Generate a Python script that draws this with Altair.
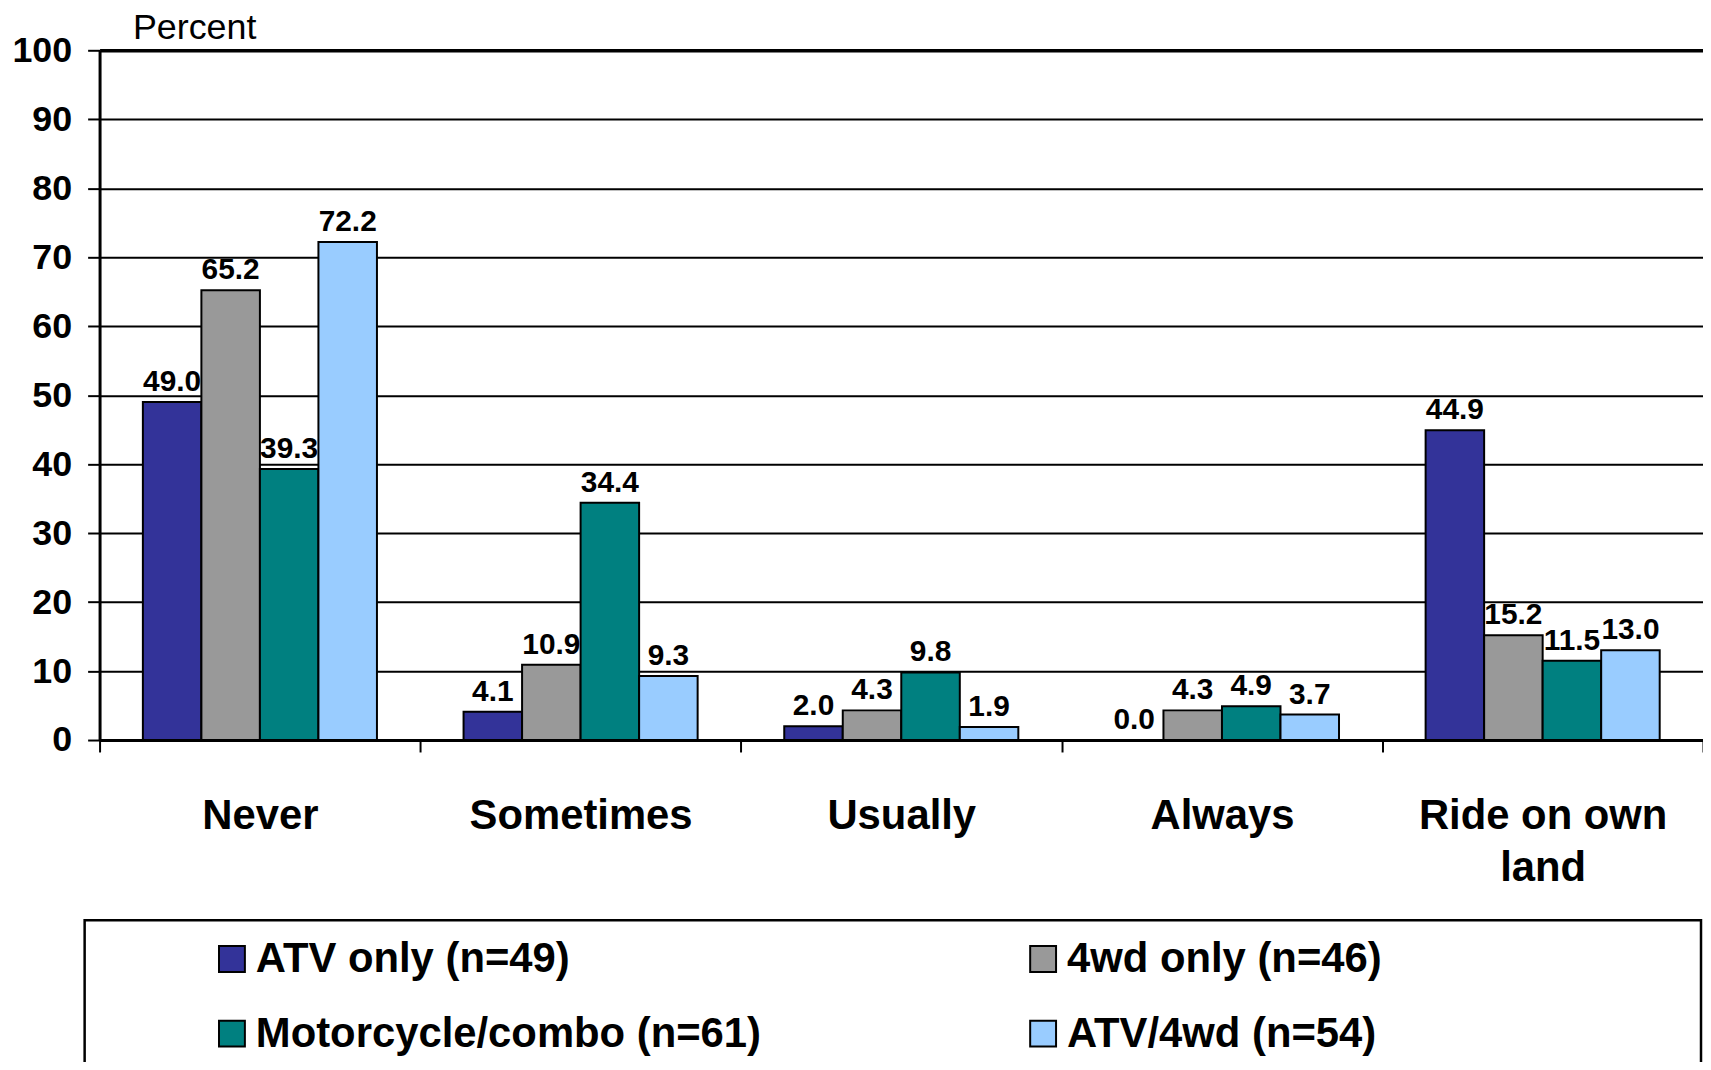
import altair as alt
import pandas as pd

categories = ["Never", "Sometimes", "Usually", "Always", "Ride on own land"]
series = ["ATV only (n=49)", "4wd only (n=46)", "Motorcycle/combo (n=61)", "ATV/4wd (n=54)"]
atv_only = [49.0, 4.1, 2.0, 0.0, 44.9]
fwd_only = [65.2, 10.9, 4.3, 4.3, 15.2]
moto_combo = [39.3, 34.4, 9.8, 4.9, 11.5]
atv_4wd = [72.2, 9.3, 1.9, 3.7, 13.0]
colors = ["#333399", "#999999", "#008080", "#99CCFF"]
y_ticks = [0, 10, 20, 30, 40, 50, 60, 70, 80, 90, 100]

rows = []
for s, vals in zip(series, [atv_only, fwd_only, moto_combo, atv_4wd]):
    for c, v in zip(categories, vals):
        rows.append({"category": c, "series": s, "value": v})
df = pd.DataFrame(rows)

FONT = "Liberation Sans"
W, H = 1611, 693

x_enc = alt.X(
    "category:N",
    sort=categories,
    title=None,
    scale=alt.Scale(paddingInner=0, paddingOuter=0),
    axis=alt.Axis(
        labelFont=FONT,
        labelFontSize=42,
        labelFontWeight="bold",
        labelColor="black",
        labelAngle=0,
        labelPadding=44,
        labelLineHeight=52,
        labelBaseline="top",
        labelLimit=600,
        labelExpr="datum.label == 'Ride on own land' ? ['Ride on own', 'land'] : datum.label",
        tickBand="extent",
        tickSize=12,
        tickColor="black",
        tickWidth=2,
        domainColor="black",
        domainWidth=3,
        grid=False,
    ),
)

y_enc = alt.Y(
    "value:Q",
    scale=alt.Scale(domain=[0, 100], nice=False),
    axis=alt.Axis(
        values=y_ticks,
        title="Percent",
        titleAngle=0,
        titleX=33,
        titleY=-12,
        titleAlign="left",
        titleBaseline="alphabetic",
        titleFont=FONT,
        titleFontSize=36,
        titleFontWeight="normal",
        titleColor="black",
        labelFont=FONT,
        labelFontSize=36,
        labelFontWeight="bold",
        labelColor="black",
        labelPadding=16,
        tickSize=12,
        tickColor="black",
        tickWidth=2,
        domainColor="black",
        domainWidth=3,
        grid=True,
        gridColor="black",
        gridOpacity=1,
        gridWidth={"condition": {"test": "datum.value === 100", "value": 3.5}, "value": 2},
    ),
)

xoff = alt.XOffset(
    "series:N", sort=series, scale=alt.Scale(paddingInner=0, paddingOuter=0.74)
)

bars = alt.Chart(df).mark_bar(stroke="black", strokeWidth=2).encode(
    x=x_enc,
    xOffset=xoff,
    y=y_enc,
    color=alt.Color(
        "series:N",
        sort=series,
        scale=alt.Scale(domain=series, range=colors),
        legend=alt.Legend(
            title=None,
            orient="none",
            direction="horizontal",
            legendX=112,
            legendY=892,
            columns=2,
            columnPadding=262,
            rowPadding=33,
            padding=0,
            symbolType="square",
            symbolSize=676,
            symbolStrokeColor="black",
            symbolStrokeWidth=2,
            symbolOpacity=1,
            labelFont=FONT,
            labelFontSize=42,
            labelFontWeight="bold",
            labelColor="black",
            labelOffset=3,
            labelLimit=0,
        ),
    ),
)

labels = alt.Chart(df).mark_text(
    font=FONT, fontSize=30, fontWeight="bold", color="black", baseline="bottom", dy=-5
).encode(
    x=alt.X("category:N", sort=categories),
    xOffset=xoff,
    y=alt.Y("value:Q"),
    text=alt.Text("value:Q", format=".1f"),
)

box = alt.Chart(pd.DataFrame({"k": [0]})).mark_rect(
    fill="white", fillOpacity=0, stroke="black", strokeWidth=2.5
).encode(
    x=alt.value(-15), x2=alt.value(1609), y=alt.value(874), y2=alt.value(1150)
)

chart = alt.layer(box, bars, labels).properties(
    width=W,
    height=H,
    autosize=alt.AutoSizeParams(type="none"),
    padding={"left": 92, "top": 40, "right": 0, "bottom": 321},
    background="white",
).configure_view(stroke=None)

chart.save("out.html", embed_options={"renderer": "svg", "actions": False})
